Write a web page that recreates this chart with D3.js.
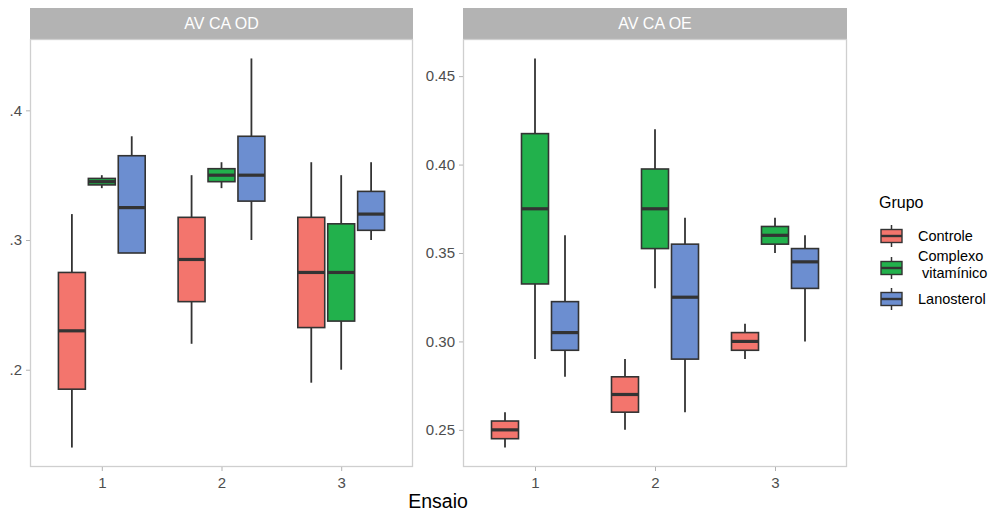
<!DOCTYPE html>
<html>
<head>
<meta charset="utf-8">
<script src="https://cdn.jsdelivr.net/npm/d3@7"></script>
<style>
  body { margin: 0; background: #fff; }
  text { font-family: "Liberation Sans", Arial, sans-serif; }
</style>
</head>
<body>
<svg id="chart" width="997" height="513"></svg>
<script>
// ---- Data ----
const ensaios = ["1", "2", "3"];
const grupos = ["Controle", "Complexo vitamínico", "Lanosterol"];
const groupColors = ["#F3756D", "#22B14C", "#6C8ED0"];
const panels = ["AV CA OD", "AV CA OE"];

// each entry: [whiskerLow, q1, median, q3, whiskerHigh], order: ensaio 1..3
const odControle   = [[0.14, 0.185, 0.23, 0.275, 0.32], [0.22, 0.2525, 0.285, 0.3175, 0.35], [0.19, 0.2325, 0.275, 0.3175, 0.36]];
const odComplexo   = [[0.34, 0.3425, 0.345, 0.3475, 0.35], [0.34, 0.345, 0.35, 0.355, 0.36], [0.20, 0.2375, 0.275, 0.3125, 0.35]];
const odLanosterol = [[0.29, 0.29, 0.325, 0.365, 0.38], [0.30, 0.33, 0.35, 0.38, 0.44], [0.30, 0.3075, 0.32, 0.3375, 0.36]];

const oeControle   = [[0.24, 0.245, 0.25, 0.255, 0.26], [0.25, 0.26, 0.27, 0.28, 0.29], [0.29, 0.295, 0.30, 0.305, 0.31]];
const oeComplexo   = [[0.29, 0.3325, 0.375, 0.4175, 0.46], [0.33, 0.3525, 0.375, 0.3975, 0.42], [0.35, 0.355, 0.36, 0.365, 0.37]];
const oeLanosterol = [[0.28, 0.295, 0.305, 0.3225, 0.36], [0.26, 0.29, 0.325, 0.355, 0.37], [0.30, 0.33, 0.345, 0.3525, 0.36]];

const odTicks = [0.2, 0.3, 0.4];
const oeTicks = [0.25, 0.30, 0.35, 0.40, 0.45];
const odTickLabels = [".2", ".3", ".4"];
const oeTickLabels = ["0.25", "0.30", "0.35", "0.40", "0.45"];

const panelData = [
  { name: panels[0], series: [odControle, odComplexo, odLanosterol], ticks: odTicks, labels: odTickLabels },
  { name: panels[1], series: [oeControle, oeComplexo, oeLanosterol], ticks: oeTicks, labels: oeTickLabels }
];

// ---- Layout ----
const svg = d3.select("#chart");
const panelTop = 39, panelBottom = 467, stripTop = 8;
const panelX = [[30, 413], [463, 847]];
const outline = "#333333";

panelData.forEach((p, pi) => {
  const [x0, x1] = panelX[pi];
  let lo = d3.min(p.series, s => d3.min(s, d => d[0]));
  let hi = d3.max(p.series, s => d3.max(s, d => d[4]));
  const pad = (hi - lo) * 0.05;
  const y = d3.scaleLinear().domain([lo - pad, hi + pad]).range([panelBottom, panelTop]);
  const unit = (x1 - x0) / 3.2;
  const cx = e => x0 + unit * (0.6 + ensaios.indexOf(e));
  const dodge = d3.scaleBand().domain(grupos).range([-unit * 0.375, unit * 0.375]);
  const boxW = dodge.bandwidth() * 0.9;

  const g = svg.append("g");
  g.append("rect").attr("x", x0).attr("y", stripTop).attr("width", x1 - x0).attr("height", panelTop - stripTop)
    .attr("fill", "#B3B3B3");
  g.append("text").attr("x", (x0 + x1) / 2).attr("y", (stripTop + panelTop) / 2 + 5.5)
    .attr("text-anchor", "middle").attr("fill", "#ffffff").attr("font-size", 16).text(p.name);

  g.append("rect").attr("x", x0 + 0.5).attr("y", panelTop + 0.5).attr("width", x1 - x0 - 1).attr("height", panelBottom - panelTop - 1)
    .attr("fill", "none").attr("stroke", "#CFCFCF").attr("stroke-width", 1.3);

  const yAxis = d3.axisLeft(y).tickValues(p.ticks).tickSize(4).tickPadding(4)
    .tickFormat((d, i) => p.labels[i]);
  const ya = g.append("g").attr("transform", `translate(${x0},0)`).call(yAxis);
  ya.select(".domain").remove();
  ya.selectAll("line").attr("stroke", "#B3B3B3");
  ya.selectAll("text").attr("font-size", 15).attr("fill", "#4D4D4D").attr("font-family", "Liberation Sans, Arial, sans-serif");

  const xs = d3.scalePoint().domain(ensaios).range([cx("1"), cx("3")]);
  const xAxis = d3.axisBottom(xs).tickSize(4).tickPadding(6);
  const xa = g.append("g").attr("transform", `translate(0,${panelBottom})`).call(xAxis);
  xa.select(".domain").remove();
  xa.selectAll("line").attr("stroke", "#B3B3B3");
  xa.selectAll("text").attr("font-size", 15).attr("fill", "#4D4D4D").attr("font-family", "Liberation Sans, Arial, sans-serif");

  p.series.forEach((s, gi) => {
    s.forEach((d, ei) => {
      const c = cx(ensaios[ei]) + dodge(grupos[gi]) + dodge.bandwidth() / 2;
      const bg = g.append("g");
      bg.append("line").attr("x1", c).attr("x2", c).attr("y1", y(d[4])).attr("y2", y(d[3]))
        .attr("stroke", outline).attr("stroke-width", 1.8);
      bg.append("line").attr("x1", c).attr("x2", c).attr("y1", y(d[1])).attr("y2", y(d[0]))
        .attr("stroke", outline).attr("stroke-width", 1.8);
      bg.append("rect").attr("x", c - boxW / 2).attr("y", y(d[3])).attr("width", boxW)
        .attr("height", Math.max(0, y(d[1]) - y(d[3])))
        .attr("fill", groupColors[gi]).attr("stroke", outline).attr("stroke-width", 1.6);
      bg.append("line").attr("x1", c - boxW / 2).attr("x2", c + boxW / 2).attr("y1", y(d[2])).attr("y2", y(d[2]))
        .attr("stroke", outline).attr("stroke-width", 3.2);
    });
  });
});

svg.append("text").attr("x", 438).attr("y", 508).attr("text-anchor", "middle")
  .attr("font-size", 19.5).attr("fill", "#000").text("Ensaio");

const leg = svg.append("g");
leg.append("text").attr("x", 879).attr("y", 208).attr("font-size", 16).attr("fill", "#000").text("Grupo");
const keyY = [236, 268, 299];
const labelLines = [["Controle"], ["Complexo", " vitamínico"], ["Lanosterol"]];
grupos.forEach((gname, i) => {
  const kc = 891.5, ky = keyY[i];
  leg.append("line").attr("x1", kc).attr("x2", kc).attr("y1", ky - 11).attr("y2", ky + 11)
    .attr("stroke", outline).attr("stroke-width", 1.5);
  leg.append("rect").attr("x", kc - 10.5).attr("y", ky - 6.5).attr("width", 21).attr("height", 13)
    .attr("fill", groupColors[i]).attr("stroke", outline).attr("stroke-width", 1.4);
  leg.append("line").attr("x1", kc - 10.5).attr("x2", kc + 10.5).attr("y1", ky).attr("y2", ky)
    .attr("stroke", outline).attr("stroke-width", 2.4);
  const lines = labelLines[i];
  const t = leg.append("text").attr("font-size", 14.5).attr("fill", "#000").attr("xml:space", "preserve");
  if (lines.length === 1) {
    t.attr("x", 918).attr("y", ky + 5).text(lines[0]);
  } else {
    t.append("tspan").attr("x", 918).attr("y", ky - 7).text(lines[0]);
    t.append("tspan").attr("x", 918).attr("y", ky + 10).style("white-space", "pre").text(lines[1]);
  }
});
</script>
</body>
</html>
